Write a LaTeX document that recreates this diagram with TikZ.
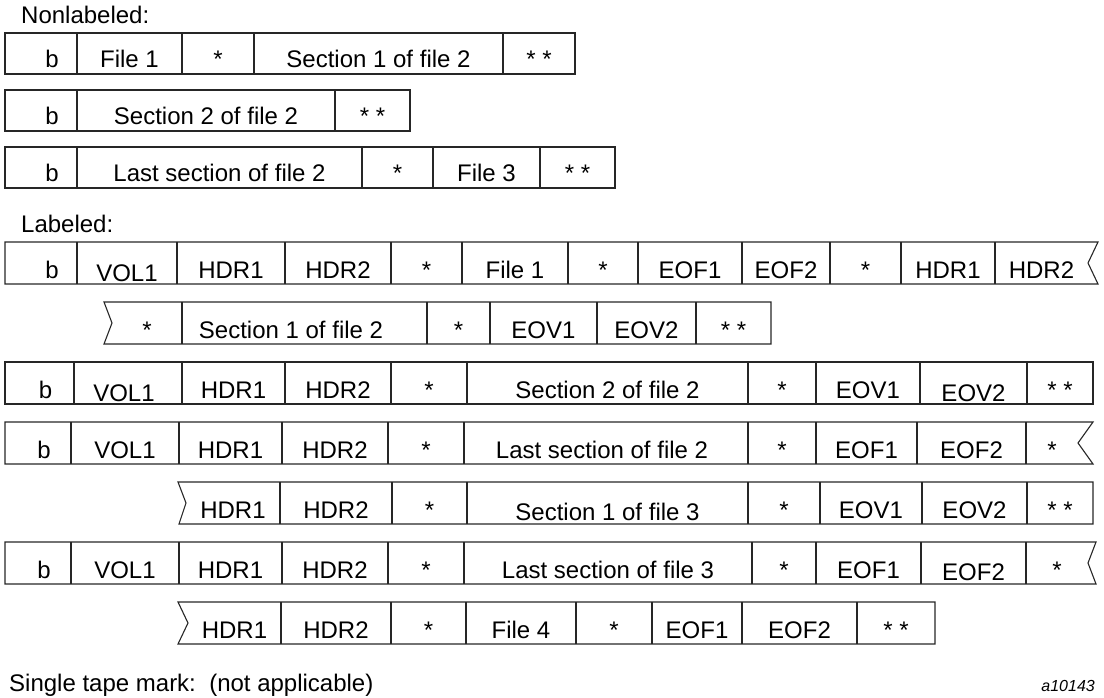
\documentclass[tikz,border=0pt]{standalone}
\usepackage{fontspec}
\setmainfont{Liberation Sans}
\newcommand{\tprowtext}[3]{%
  \foreach \xa/\xb/\dy/\lab [count=\i] in {#3}
    \node[celltext] (#1-\i) at ({(\xa+\xb)/2}, {#2+\dy}) {\lab};
}
\begin{document}
\begin{tikzpicture}[x=1pt,y=-1pt,
  tline/.style={draw=black!85, line width=1.1pt, line join=miter},
  celltext/.style={inner sep=0pt, anchor=base, font=\fontsize{24}{24}\selectfont},
  headtext/.style={inner sep=0pt, anchor=base west, font=\fontsize{24}{24}\selectfont},
  figid/.style={inner sep=0pt, anchor=base east, font=\fontsize{16}{16}\selectfont\itshape}]
\useasboundingbox (0,0) rectangle (1104,698);

\node[headtext] (hnl) at (21,24) {Nonlabeled:};
\node[headtext] (hl) at (21,233) {Labeled:};
\node[headtext] (hst) at (9,691) {Single tape mark:\ \ (not applicable)};
\node[figid] (fid) at (1095,691) {a10143};

% Nonlabeled row 1
\draw[tline] (5,33) rectangle (575,74);
\foreach \x in {77,182,254,503} \draw[tline] (\x,33) -- (\x,74);
\tprowtext{na}{68}{27/77/0/b, 77/182/0/File 1, 182/254/0/*, 254/503/0/Section 1 of file 2, 503/575/0/* *}

% Nonlabeled row 2
\draw[tline] (5,90) rectangle (410,131);
\foreach \x in {77,335} \draw[tline] (\x,90) -- (\x,131);
\tprowtext{nb}{125}{27/77/0/b, 77/335/0/Section 2 of file 2, 335/410/0/* *}

% Nonlabeled row 3
\draw[tline] (5,147) rectangle (615,188);
\foreach \x in {77,362,433,540} \draw[tline] (\x,147) -- (\x,188);
\tprowtext{nc}{182}{27/77/0/b, 77/362/0/Last section of file 2, 362/433/0/*, 433/540/0/File 3, 540/615/0/* *}

% Labeled row 1
\draw[tline] (5,242) -- (1098,242) -- (1088,263) -- (1098,284) -- (5,284) -- cycle;
\foreach \x in {77,177,285,391,462,568,638,742,830,901,995} \draw[tline] (\x,242) -- (\x,284);
\tprowtext{la}{278}{27/77/0/b, 77/177/3/VOL1, 177/285/0/HDR1, 285/391/0/HDR2, 391/462/0/*, 462/568/0/File 1, 568/638/0/*, 638/742/0/EOF1, 742/830/0/EOF2, 830/901/0/*, 901/995/0/HDR1, 995/1088/0/HDR2}

% Labeled row 2
\draw[tline] (104,302) -- (771,302) -- (771,344) -- (104,344) -- (112,323) -- cycle;
\foreach \x in {182,427,490,597,696} \draw[tline] (\x,302) -- (\x,344);
\tprowtext{lb}{338}{112/182/0/*, 182/400/0/Section 1 of file 2, 427/490/0/*, 490/597/0/EOV1, 597/696/0/EOV2, 696/771/0/* *}

% Labeled row 3
\draw[tline] (5,362) rectangle (1093,404);
\foreach \x in {74,182,285,391,467,748,816,920,1027} \draw[tline] (\x,362) -- (\x,404);
\tprowtext{lc}{398}{17/74/0/b, 66/182/3/VOL1, 182/285/0/HDR1, 285/391/0/HDR2, 391/467/0/*, 467/748/0/Section 2 of file 2, 748/816/0/*, 816/920/0/EOV1, 920/1027/3/EOV2, 1027/1093/0/* *}

% Labeled row 4
\draw[tline] (5,422) -- (1093,422) -- (1078,443) -- (1093,464) -- (5,464) -- cycle;
\foreach \x in {71,179,282,388,464,748,816,917,1026} \draw[tline] (\x,422) -- (\x,464);
\tprowtext{ld}{458}{17/71/0/b, 71/179/0/VOL1, 179/282/0/HDR1, 282/388/0/HDR2, 388/464/0/*, 464/740/0/Last section of file 2, 748/816/0/*, 816/917/0/EOF1, 917/1026/0/EOF2, 1026/1078/0/*}

% Labeled row 5
\draw[tline] (178,482) -- (1093,482) -- (1093,524) -- (179,524) -- (186,503) -- cycle;
\foreach \x in {280,392,467,748,820,922,1027} \draw[tline] (\x,482) -- (\x,524);
\tprowtext{le}{518}{186/280/0/HDR1, 280/392/0/HDR2, 392/467/0/*, 467/748/2/Section 1 of file 3, 748/820/0/*, 820/922/0/EOV1, 922/1027/0/EOV2, 1027/1093/0/* *}

% Labeled row 6
\draw[tline] (5,542) -- (1096,542) -- (1088,563) -- (1096,584) -- (5,584) -- cycle;
\foreach \x in {71,179,282,388,464,752,816,921,1026} \draw[tline] (\x,542) -- (\x,584);
\tprowtext{lf}{578}{17/71/0/b, 71/179/0/VOL1, 179/282/0/HDR1, 282/388/0/HDR2, 388/464/0/*, 464/752/0/Last section of file 3, 752/816/0/*, 816/921/0/EOF1, 921/1026/2/EOF2, 1026/1088/0/*}

% Labeled row 7
\draw[tline] (178,602) -- (935,602) -- (935,644) -- (178,644) -- (188,623) -- cycle;
\foreach \x in {281,391,466,576,652,742,857} \draw[tline] (\x,602) -- (\x,644);
\tprowtext{lg}{638}{188/281/0/HDR1, 281/391/0/HDR2, 391/466/0/*, 466/576/0/File 4, 576/652/0/*, 652/742/0/EOF1, 742/857/0/EOF2, 857/935/0/* *}
\end{tikzpicture}
\end{document}
